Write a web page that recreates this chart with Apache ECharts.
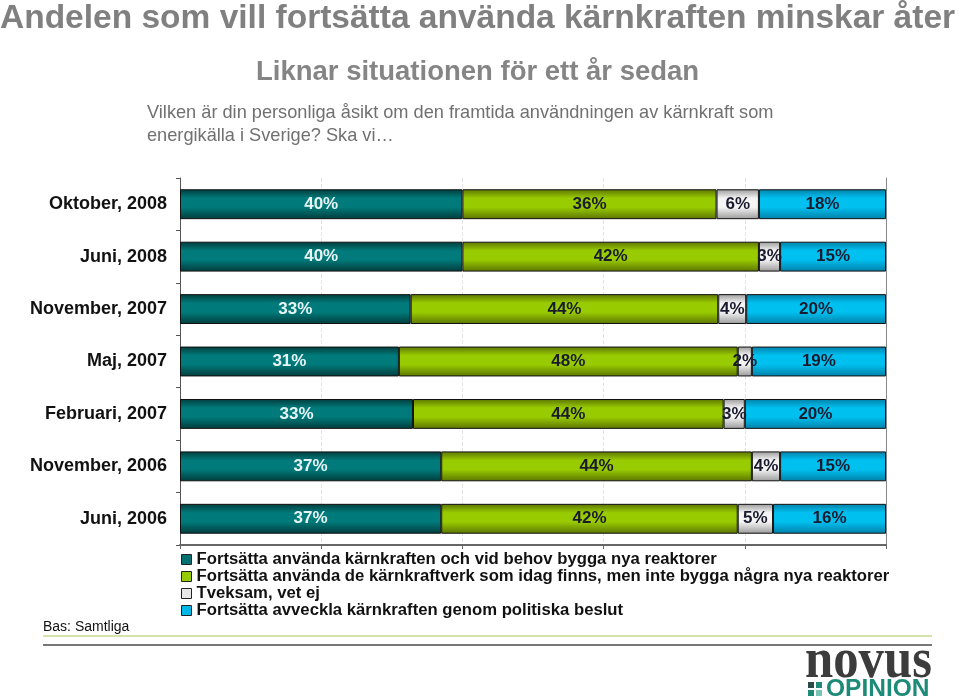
<!DOCTYPE html>
<html>
<head>
<meta charset="utf-8">
<script src="https://cdn.jsdelivr.net/npm/echarts@6/dist/echarts.min.js"></script>
<style>html,body{margin:0;padding:0;background:#fff}#c{width:959px;height:699px}</style>
</head>
<body>
<div id="c"></div>
<script>
const categories = ['Oktober, 2008','Juni, 2008','November, 2007','Maj, 2007','Februari, 2007','November, 2006','Juni, 2006'];
const seriesNames = [
  'Fortsätta använda kärnkraften och vid behov bygga nya reaktorer',
  'Fortsätta använda de kärnkraftverk som idag finns, men inte bygga några nya reaktorer',
  'Tveksam, vet ej',
  'Fortsätta avveckla kärnkraften genom politiska beslut'
];
const bygga    = [40,40,33,31,33,37,37];
const behalla  = [36,42,44,48,44,44,42];
const tveksam  = [6,3,4,2,3,4,5];
const avveckla = [18,15,20,19,20,15,16];
const xTicks = [0,20,40,60,80,100];

const raw = [bygga, behalla, tveksam, avveckla];
const totals = categories.map((c,i)=>raw.reduce((s,a)=>s+a[i],0));

function grad(edge, mid){
  return {type:'linear',x:0,y:0,x2:0,y2:1,colorStops:[
    {offset:0,color:edge},{offset:0.3,color:mid},{offset:0.6,color:mid},{offset:1,color:edge}]};
}
const fills = [grad('#003c3c','#007a7a'), grad('#5c7400','#99cc00'), grad('#9a9a9a','#f4f4f4'), grad('#0080a8','#00c0f0')];
const solid = ['#007070','#99cc00','#e8e8e8','#00b8e8'];
const labelColors = ['#e8f4f4','#1a1a2e','#1a1a2e','#1a1a2e'];

const chart = echarts.init(document.getElementById('c'));
const series = raw.map((arr,k)=>({
  name: seriesNames[k],
  type:'bar',
  stack:'t',
  barWidth:'57%',
  data: arr.map((v,i)=>v/totals[i]*100),
  itemStyle:{color:fills[k], borderColor:'#111', borderWidth:1},
  label:{show:true, position:'inside', fontFamily:'Liberation Sans', fontWeight:'bold', fontSize:17,
    color:labelColors[k], formatter:p=>raw[k][p.dataIndex]+'%'},
  emphasis:{disabled:true}
}));

chart.setOption({
  animation:false,
  title:[
    {text:'Andelen som vill fortsätta använda kärnkraften minskar åter', left:0, top:2, padding:0,
     textStyle:{fontFamily:'Liberation Sans', fontWeight:'bold', fontSize:33.5, color:'#808080'}},
    {text:'Liknar situationen för ett år sedan', left:256, top:58, padding:0,
     textStyle:{fontFamily:'Liberation Sans', fontWeight:'bold', fontSize:27.5, color:'#858585'}},
    {text:'Vilken är din personliga åsikt om den framtida användningen av kärnkraft som\nenergikälla i Sverige? Ska vi…', left:147, top:101, padding:0,
     textStyle:{fontFamily:'Liberation Sans', fontWeight:'normal', fontSize:18.2, lineHeight:23, color:'#707070'}},
    {text:'Bas: Samtliga', left:43, top:620, padding:0,
     textStyle:{fontFamily:'Liberation Sans', fontWeight:'normal', fontSize:14, color:'#111'}}
  ],
  grid:{left:180, right:73, top:178, bottom:154},
  xAxis:{type:'value', min:0, max:100, interval:20,
    axisLine:{show:true, lineStyle:{color:'#666', width:2}},
    axisTick:{show:true, length:4, lineStyle:{color:'#666'}},
    axisLabel:{show:false},
    splitLine:{show:true, lineStyle:{color:'#e4e4e4', type:'dashed'}}},
  yAxis:[
    {type:'category', data:categories, inverse:true,
     axisLine:{show:true, lineStyle:{color:'#555'}},
     axisTick:{show:true, length:4, lineStyle:{color:'#555'}},
     axisLabel:{margin:13, fontFamily:'Liberation Sans', fontWeight:'bold', fontSize:18, color:'#111'}},
    {type:'category', data:categories, inverse:true, position:'right',
     axisLine:{show:true, lineStyle:{color:'#888'}}, axisTick:{show:false}, axisLabel:{show:false}}
  ],
  legend:{orient:'vertical', left:181, top:551, padding:0, itemWidth:10, itemHeight:10, itemGap:0,
    icon:'rect',
    data: seriesNames.map((n,k)=>({name:n, itemStyle:{color:solid[k], borderColor:'#222', borderWidth:1}})),
    textStyle:{fontFamily:'Liberation Sans', fontWeight:'bold', fontSize:16.7, lineHeight:17, color:'#111'},
    selectedMode:false},
  series: series,
  graphic:[
    {type:'line', shape:{x1:43,y1:636,x2:932,y2:636}, style:{stroke:'#c8d890', lineWidth:1.5}, silent:true},
    {type:'line', shape:{x1:43,y1:645,x2:932,y2:645}, style:{stroke:'#777', lineWidth:2}, silent:true},
    {type:'text', x:805, y:634, scaleX:0.89, style:{text:'novus', font:'bold 57px "Liberation Serif"', fill:'#3c3c3c', verticalAlign:'top'}},
    {type:'rect', shape:{x:808,y:682,width:6,height:6}, style:{fill:'#2a4a48'}},
    {type:'rect', shape:{x:816,y:682,width:6,height:6}, style:{fill:'#1e8a78'}},
    {type:'rect', shape:{x:808,y:690,width:6,height:6}, style:{fill:'#1e8a78'}},
    {type:'rect', shape:{x:816,y:690,width:6,height:6}, style:{fill:'#7ac4b4'}},
    {type:'text', x:826, y:689, style:{text:'OPINION', font:'bold 24.5px "Liberation Sans"', fill:'#1e8a78', verticalAlign:'middle'}}
  ]
});
</script>
</body>
</html>
